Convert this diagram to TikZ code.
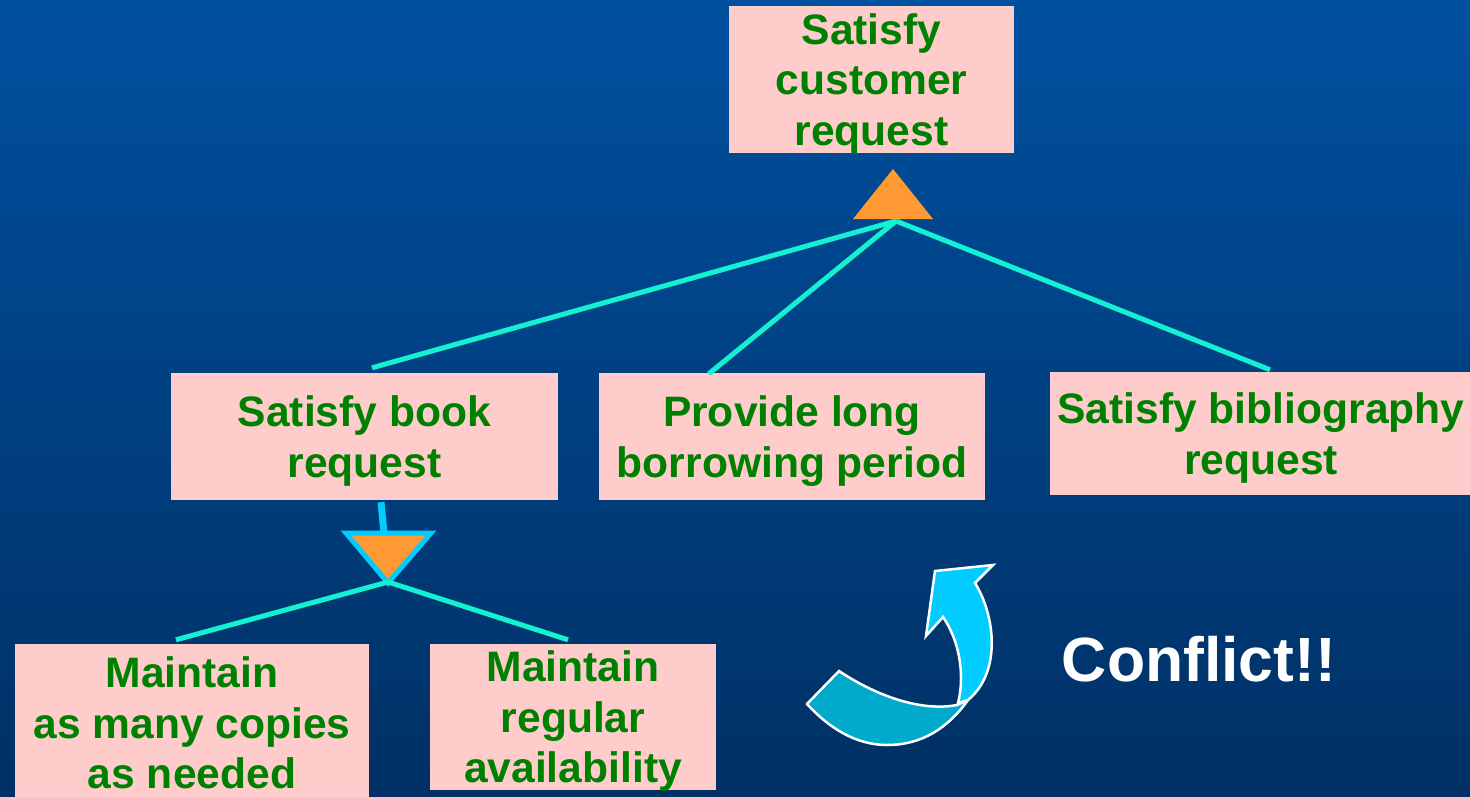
\documentclass[tikz,border=0pt]{standalone}
\usepackage{fontspec}
\setmainfont{Liberation Sans}
\usetikzlibrary{calc}
\definecolor{bgtop}{RGB}{0,80,160}
\definecolor{bgbot}{RGB}{0,48,100}
\definecolor{pinkbox}{RGB}{255,204,204}
\definecolor{goalgreen}{RGB}{0,128,0}
\definecolor{linkcyan}{RGB}{20,240,210}
\definecolor{skyblue}{RGB}{0,204,255}
\definecolor{darksky}{RGB}{0,170,205}
\definecolor{andorange}{RGB}{255,153,51}
\newcommand\goalfont{\fontsize{42.6}{50.5}\selectfont\bfseries}
\tikzset{
  goal/.style={fill=pinkbox, draw=none, inner sep=0pt, align=center,
    text=goalgreen, font=\goalfont, text depth=-4pt},
  link/.style={draw=linkcyan, line width=5pt},
  andtri/.style={fill=andorange},
  arrowpart/.style={draw=white, line width=2.5pt, line join=miter}
}
\begin{document}
\begin{tikzpicture}[x=1pt,y=-1pt]
\useasboundingbox (0,0) rectangle (1470,797);
\clip (0,0) rectangle (1470,797);
\shade[top color=bgtop, bottom color=bgbot] (0,0) rectangle (1470,797);

% goal boxes
\node[goal, minimum width=285, minimum height=147] (top) at (871.5,79.5) {Satisfy\\customer\\request};
\node[goal, minimum width=387, minimum height=127] (book) at (364.5,436.5) {Satisfy book\\request};
\node[goal, minimum width=386, minimum height=127] (provide) at (792,436.5) {Provide long\\borrowing period};
\node[goal, minimum width=422, minimum height=123] (biblio) at (1261,433.5) {Satisfy bibliography\\request};
\node[goal, minimum width=354, minimum height=158] (copies) at (192,723) {Maintain\\as many copies\\as needed};
\node[goal, minimum width=286, minimum height=146] (avail) at (573,717) {Maintain\\regular\\availability};

% AND-refinement of the top goal
\coordinate (topjoin) at (896,221);
\fill[andtri] (853,219) -- (933,219) -- (893,169) -- cycle;
\draw[link] (topjoin) -- ($(book.north)+(7.5,-5)$);
\draw[link] (topjoin) -- ($(provide.north west)+(110,1)$);
\draw[link] (topjoin) -- ($(biblio.north)+(9,-2)$);

% refinement of the book goal
\coordinate (bookjoin) at (388,582);
\draw[draw=skyblue, line width=7pt] ($(book.south)+(16.5,2)$) -- (384,533);
\draw[andtri, draw=skyblue, line width=5pt, line join=miter] (346,533) -- (431,533) -- (388,583) -- cycle;
\draw[link] (bookjoin) -- ($(copies.north)+(-16,-4)$);
\draw[link] (bookjoin) -- ($(avail.north)+(-5,-4)$);

% curved conflict arrow
\filldraw[arrowpart, fill=darksky] (807,704) -- (839,671)
  .. controls (875,695) and (920,712) .. (957,705)
  -- (968,700)
  .. controls (948,728) and (922,745) .. (887,745)
  .. controls (855,745) and (828,727) .. (807,704) -- cycle;
\filldraw[arrowpart, fill=skyblue] (926,636) -- (935,571) -- (993,565) -- (975,583)
  .. controls (995,615) and (1002,672) .. (968,700)
  -- (958,703)
  .. controls (964,680) and (962,645) .. (943,617) -- cycle;

\node[text=white, font=\fontsize{62.5}{70}\selectfont\bfseries, inner sep=0pt] (conflict) at (1199,659) {Conflict!!};
\end{tikzpicture}
\end{document}
